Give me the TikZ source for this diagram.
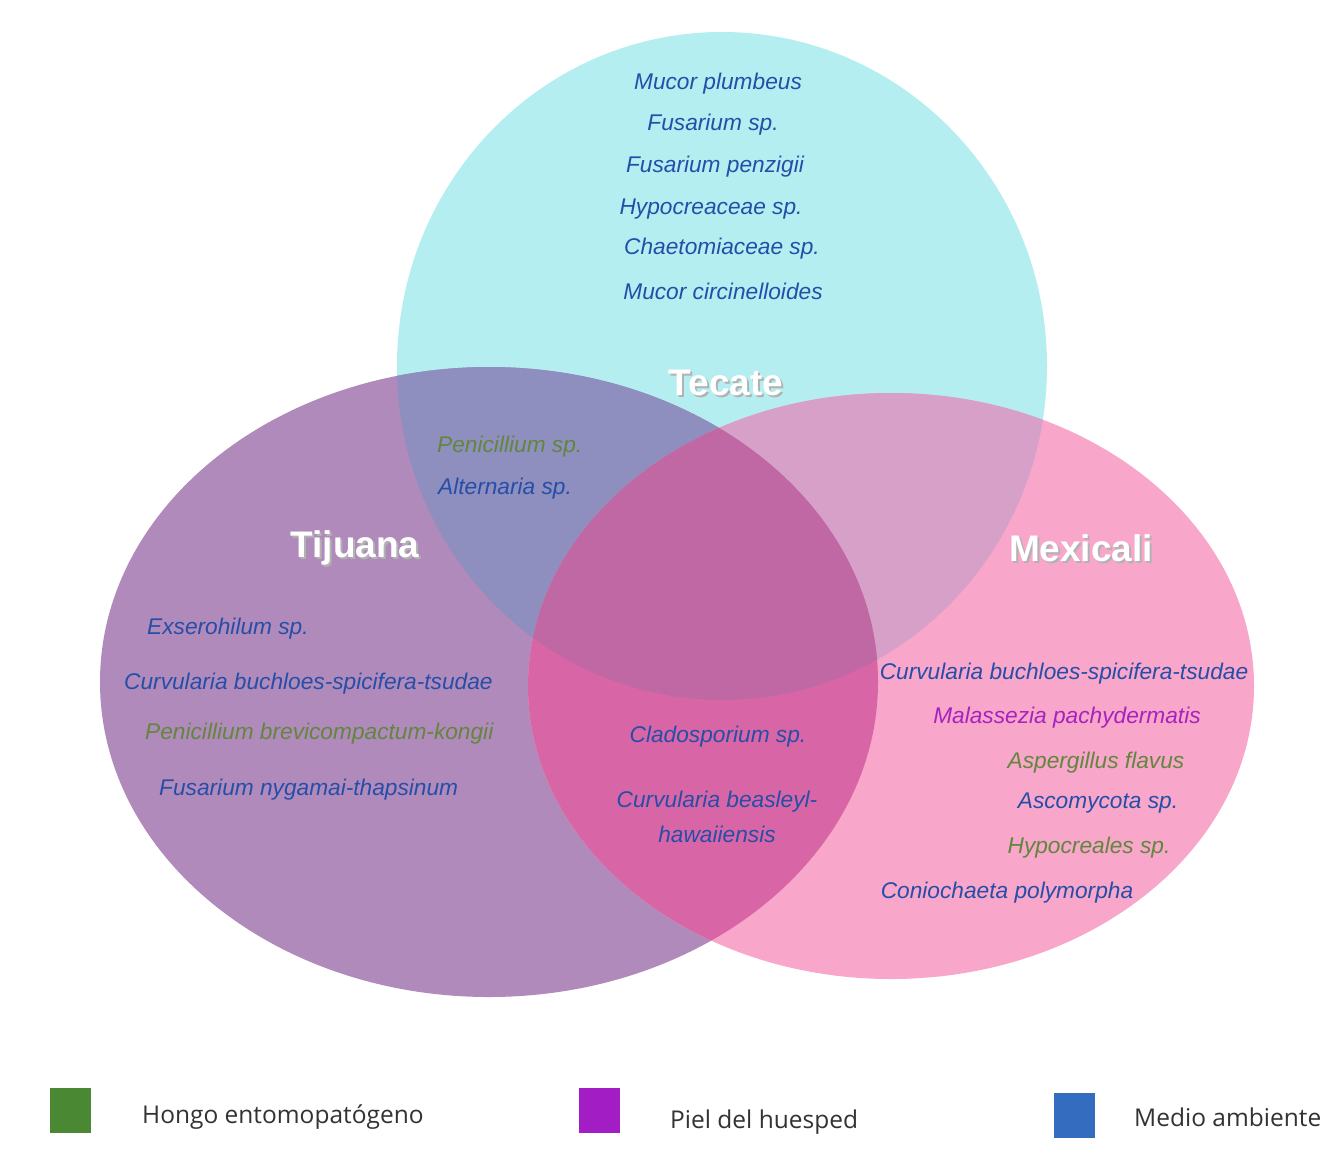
\documentclass[tikz,border=0pt]{standalone}
\usepackage{fontspec}
\setmainfont{Liberation Sans}
\newfontfamily\legendfont{Open Sans}
\definecolor{tecateC}{RGB}{180,238,240}
\definecolor{tijuanaC}{RGB}{176,138,186}
\definecolor{mexicaliC}{RGB}{248,166,202}
\definecolor{tecTijC}{RGB}{142,143,190}
\definecolor{tecMexC}{RGB}{214,160,200}
\definecolor{tijMexC}{RGB}{216,102,166}
\definecolor{centroC}{RGB}{192,104,164}
\definecolor{azulT}{RGB}{38,78,168}
\definecolor{verdeT}{RGB}{98,134,62}
\definecolor{moradoT}{RGB}{165,35,190}
\definecolor{verdeL}{RGB}{74,136,52}
\definecolor{moradoL}{RGB}{162,30,196}
\definecolor{azulL}{RGB}{52,108,192}
% texto blanco con sombra suave
\newcommand{\sombreado}[1]{\rlap{\hspace{2pt}\raisebox{-2pt}{\color{black!30}#1}}#1}
\tikzset{
  especie/.style={inner sep=0pt, font=\itshape\fontsize{22.7}{26}\selectfont},
  medio/.style={especie, text=azulT},
  hongo/.style={especie, text=verdeT},
  piel/.style={especie, text=moradoT},
  ciudad/.style={inner sep=0pt, text=white, font=\bfseries\fontsize{37}{40}\selectfont},
  cuadro/.style={inner sep=0pt, minimum width=41pt, minimum height=45pt},
  leyenda/.style={inner sep=0pt, anchor=west, text=black!80, font=\legendfont\fontsize{24.5}{28}\selectfont}
}
\begin{document}
\begin{tikzpicture}[x=1pt, y=-1pt]
  \useasboundingbox (0,0) rectangle (1332,1152);
  \fill[white] (0,0) rectangle (1332,1152);

  % Conjuntos
  \def\tecate{(722,366) ellipse [x radius=325, y radius=334]}
  \def\tijuana{(489,682) ellipse [x radius=389, y radius=315]}
  \def\mexicali{(891,686) ellipse [x radius=363, y radius=293]}
  \fill[tecateC] \tecate;
  \fill[tijuanaC] \tijuana;
  \fill[mexicaliC] \mexicali;

  % Intersecciones
  \begin{scope}
    \clip \tecate;
    \fill[tecTijC] \tijuana;
    \fill[tecMexC] \mexicali;
  \end{scope}
  \begin{scope}
    \clip \tijuana;
    \fill[tijMexC] \mexicali;
    \clip \tecate;
    \fill[centroC] \mexicali;
  \end{scope}

  % Nombres de las ciudades
  \node[ciudad] (tecate) at (726,384) {\sombreado{Tecate}};
  \node[ciudad] (tijuana) at (355,549) {\sombreado{Tijuana}};
  \node[ciudad] (mexicali) at (1081,549) {\sombreado{Mexicali}};

  % Solo Tecate
  \node[medio] (mplu) at (718,84) {Mucor plumbeus};
  \node[medio] (fusp) at (713,125) {Fusarium sp.};
  \node[medio] (fpen) at (715,167) {Fusarium penzigii};
  \node[medio] (hypo) at (711,209) {Hypocreaceae sp.};
  \node[medio] (chae) at (722,249) {Chaetomiaceae sp.};
  \node[medio] (mcir) at (723,291) {Mucor circinelloides};

  % Tecate y Tijuana
  \node[hongo, anchor=west] (pens) at (437,447) {Penicillium sp.};
  \node[medio, anchor=west] (alte) at (438,489) {Alternaria sp.};

  % Solo Tijuana
  \node[medio, anchor=west] (exse) at (147,629) {Exserohilum sp.};
  \node[medio, anchor=west] (cbuj) at (124,684) {Curvularia buchloes-spicifera-tsudae};
  \node[hongo, anchor=west] (pbre) at (145,734) {Penicillium brevicompactum-kongii};
  \node[medio, anchor=west] (fnyg) at (159,790) {Fusarium nygamai-thapsinum};

  % Tijuana y Mexicali
  \node[medio] (clad) at (718,737) {Cladosporium sp.};
  \node[medio, align=center] (cbea) at (717,817) {Curvularia beasleyl-\\[9pt]hawaiiensis};

  % Solo Mexicali
  \node[medio] (cbum) at (1064,674) {Curvularia buchloes-spicifera-tsudae};
  \node[piel] (mala) at (1067,718) {Malassezia pachydermatis};
  \node[hongo] (aspe) at (1096,763) {Aspergillus flavus};
  \node[medio] (asco) at (1098,803) {Ascomycota sp.};
  \node[hongo] (hypr) at (1089,848) {Hypocreales sp.};
  \node[medio] (coni) at (1007,893) {Coniochaeta polymorpha};

  % Leyenda
  \node[cuadro, fill=verdeL] (lhongo) at (70.5,1110.5) {};
  \node[leyenda] (thongo) at (142,1117) {Hongo entomopatógeno};
  \node[cuadro, fill=moradoL] (lpiel) at (599,1110.5) {};
  \node[leyenda] (tpiel) at (670,1122) {Piel del huesped};
  \node[cuadro, fill=azulL] (lmedio) at (1074.5,1115) {};
  \node[leyenda] (tmedio) at (1134,1117) {Medio ambiente};
\end{tikzpicture}
\end{document}
